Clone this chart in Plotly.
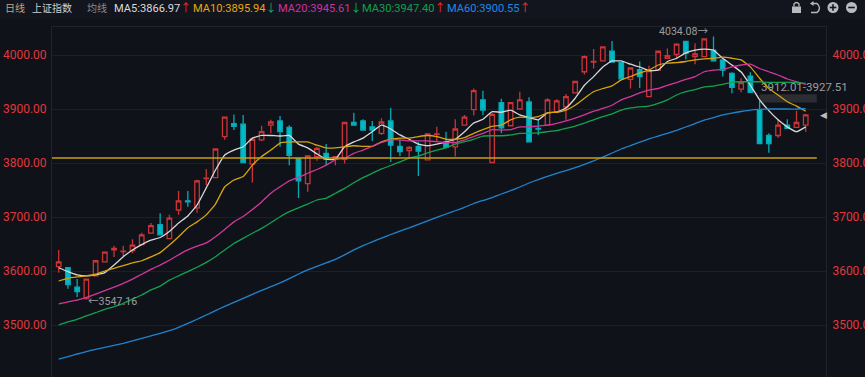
import plotly.graph_objects as go

opens = [3608,3606,3570,3549,3591,3617,3639,3636,3638,3649,3670,3686,3660,3713,3730,3717,3771,3773,3849,3873,
         3872,3798,3843,3870,3878,3866,3808,3762,3812,3818,3807,3807,3875,3878,3867,3855,3878,3831,3823,3831,
         3806,3853,3839,3830,3870,3899,3917,3801,3912,3869,3900,3913,3864,3870,3895,3904,3930,3969,3987,3989,
         4007,3986,3955,3973,3923,3972,3994,4001,4025,3997,3997,4009,3991,3966,3937,3961,3899,3851,3851,3870,
         3866,3870]
highs = [3639,3607,3585,3586,3620,3636,3647,3647,3659,3671,3689,3707,3704,3748,3748,3769,3789,3827,3886,3890,
         3889,3847,3869,3880,3887,3870,3809,3815,3830,3835,3813,3876,3893,3881,3878,3883,3902,3843,3831,3839,
         3855,3867,3858,3881,3889,3938,3934,3893,3919,3913,3932,3922,3880,3920,3918,3928,3952,3999,4011,4016,
         4026,3987,3977,3988,3980,4008,4012,4022,4026,4022,4031,4034.08,3992,3968,3957,3968,3915,3855,3880,3881,
         3897,3891]
lows = [3597,3567,3552,3547.16,3590,3616,3626,3628,3633,3648,3669,3666,3659,3704,3719,3708,3759,3772,3843,3861,
        3800,3764,3841,3855,3830,3796,3735,3747,3804,3796,3796,3799,3869,3860,3841,3852,3802,3813,3809,3776,
        3805,3839,3828,3812,3869,3888,3889,3800,3855,3868,3899,3838,3852,3869,3893,3880,3929,3964,3975,3988,
        3986,3955,3938,3939,3922,3971,3993,3992,3992,3983,3996,3988,3960,3929,3931,3930,3835,3819,3847,3863,
        3865,3858]
closes = [3617,3575,3562,3585,3619,3635,3642,3637,3648,3667,3684,3667,3698,3730,3728,3767,3772,3826,3885,3868,
          3801,3844,3858,3876,3858,3814,3767,3813,3827,3807,3812,3875,3870,3861,3861,3876,3833,3821,3829,3822,
          3854,3854,3829,3863,3885,3934,3898,3890,3865,3912,3917,3839,3863,3917,3915,3923,3951,3997,3988,4015,
          3987,3956,3976,3960,3971,4007,3999,4020,4003,4002,4030,3989,3972,3940,3949,3931,3836,3836,3870,3864,
          3875,3889]

ma5 = [3606,3599,3593,3591,3593,3597,3611,3626.5,3639,3649,3657,3662,3673,3689,3702,3722,3754,3787,3815,3824,
       3830,3846,3851,3851,3850,3851,3835,3828,3817,3807,3807,3830,3839,3846,3858,3870,3863,3852,3844,3835,
       3832,3835,3839,3844,3858,3874,3881,3895,3894,3898,3889,3884,3880,3893,3894,3902,3920,3944,3960,3978,
       3989,3989,3983,3978,3971,3972,3988,3994,4004,4009,4011,4009,3994,3981.5,3968.5,3944,3917,3897,3880,3867,
       3858,3866.97]
ma10 = [3581.5,3586.5,3589,3591,3594,3600,3605,3610,3615,3619,3626,3634,3648,3663.5,3680,3691,3704,3724,3756,3768.5,
        3775,3796,3812,3824,3837,3839,3839,3839,3833,3828,3828,3830,3832,3831,3831,3839,3844,3846,3846,3849,
        3851,3849,3844,3844,3847,3855,3862,3868,3870,3880,3885,3884,3886,3893,3894,3898,3907,3920,3932,3938,
        3943,3954,3960,3967,3972,3981.5,3985,3986,3988,3991,3993,3994,3996,3994,3991,3978,3957,3938,3926,3913.5,
        3905.5,3895.94]
ma20 = [3539,3543,3546,3551,3557,3563.5,3570,3577,3585,3594,3603,3611,3620,3630,3639,3646,3652,3663.5,3677,3691,
        3701,3714,3728,3744,3756,3767,3773.5,3781,3788,3796,3806,3809,3818,3824,3831,3838,3843,3843,3841,3841,
        3841,3839.5,3838,3838,3843,3849,3855,3862,3861,3862,3867,3867,3868.5,3870,3873.5,3878,3883,3889,3896,3901,
        3907,3917,3923,3930,3935,3938,3944,3949,3955,3960,3969,3972,3973.5,3978,3981.5,3983,3975,3969,3963,3955.6,
        3950.6,3945.61]
ma30 = [3500,3505.6,3510.6,3516.7,3522.8,3529,3534,3540,3548,3555.6,3565,3572,3583,3591,3599,3607,3616,3626.5,3639,3651,
        3660.5,3670,3679,3689.4,3700.6,3710,3717,3724,3731.5,3735,3744,3753,3763.5,3773,3781,3789,3795.4,3802,3809,3813,
        3819,3824,3828,3835,3839.4,3844,3850,3850.5,3850.5,3852,3855,3855,3856,3858,3860,3864,3868.5,3874,3880,3886,
        3891,3898,3902,3904,3905.5,3910.5,3917,3926,3932,3936,3941,3942.6,3945.7,3949.4,3950.5,3950.5,3950.5,3949.4,3949.4,3949.4,
        3948.7,3947.40]
ma60 = [3437,3441.3,3446.3,3450.6,3455,3458.7,3462.4,3466,3470.4,3475.4,3480,3484.6,3489.4,3495.7,3503,3510.6,3518.5,3526.5,3534.5,3542,
        3549.4,3556.9,3564,3571,3578,3586,3594.4,3602,3608.6,3615,3621.7,3630,3639,3647,3654,3661,3667.6,3674,3680,3686.5,
        3693,3699.4,3705.6,3711.6,3718,3725,3730.6,3736,3742.6,3748.7,3755.6,3763,3769.4,3775.4,3781,3786,3791.3,3797.6,3804,3811,
        3818.5,3826,3832.4,3838.5,3844.5,3850,3855,3860.5,3866.7,3873,3879.6,3884,3889,3892.6,3895.4,3898,3899.4,3900,3900,3900,
        3900,3900.55]

ma_names = ["MA5", "MA10", "MA20", "MA30", "MA60"]
ma_series = [ma5, ma10, ma20, ma30, ma60]
ma_colors = ["#d8d8d8", "#d6a40c", "#d2379c", "#12a24e", "#1f84cf"]
ma_labels = ["MA5:3866.97", "MA10:3895.94", "MA20:3945.61", "MA30:3947.40", "MA60:3900.55"]
ma_arrows = ["↑", "↓", "↓", "↑", "↑"]
ma_label_colors = ["#d9d9d9", "#e6a808", "#d0309c", "#0aa24a", "#1a8be6"]
ma_label_px = [114, 193, 278, 362, 447]

y_ticks = [3500, 3600, 3700, 3800, 3900, 4000]
support_level = 3809.3
gap_low, gap_high = 3912.01, 3927.51

W, H = 865, 377
ML, MR, MT, MB = 52, 39, 27, 0
BG = "#10121a"
HEAD = "#13151e"
GRID = "#1c1e29"
RED_T = "#e0383a"

x = list(range(len(opens)))

def px(v):
    return (v - ML) / (W - ML - MR)

def py(v):
    return (H - MB - v) / (H - MT - MB)

fig = go.Figure()
fig.add_trace(go.Candlestick(
    x=x, open=opens, high=highs, low=lows, close=closes, whiskerwidth=0,
    increasing=dict(line=dict(color="#c93437", width=1.3), fillcolor=BG),
    decreasing=dict(line=dict(color="#06aab6", width=1.3), fillcolor="#02bac6"),
    showlegend=False, hoverinfo="skip",
))
for name, vals, col in zip(ma_names, ma_series, ma_colors):
    fig.add_trace(go.Scatter(x=x, y=vals, mode="lines", name=name, showlegend=False, hoverinfo="skip",
                             line=dict(color=col, width=1.3, shape="spline", smoothing=0.35, simplify=False)))
fig.add_trace(go.Scatter(x=x[:1], y=y_ticks[:1], yaxis="y2", mode="markers", marker=dict(opacity=0),
                         showlegend=False, hoverinfo="skip"))

yrange = [3403.7, 4051.9]
xrange_ = [-0.727, 83.2]
tickfont = dict(family="Roboto, Liberation Sans, sans-serif", size=12, color=RED_T)
fig.update_layout(
    width=W, height=H, margin=dict(l=ML, r=MR, t=MT, b=MB, pad=0, autoexpand=False),
    paper_bgcolor=BG, plot_bgcolor=BG, showlegend=False,
    xaxis=dict(range=xrange_, side="top", showgrid=False, zeroline=False, showticklabels=False, ticks="",
               rangeslider=dict(visible=False), showline=True, linecolor="#20222c", linewidth=1, automargin=False),
    yaxis=dict(range=yrange, tickvals=y_ticks, tickformat=".2f", gridcolor=GRID, gridwidth=1, zeroline=False,
               tickfont=tickfont, showline=True, linecolor="#20222c", linewidth=1, ticks="outside",
               ticklen=2, tickcolor=BG, automargin=False),
    yaxis2=dict(range=yrange, overlaying="y", side="right", tickvals=y_ticks, tickformat=".2f", showgrid=False,
                zeroline=False, tickfont=tickfont, showline=True, linecolor="#20222c", linewidth=1,
                ticks="outside", ticklen=3, tickcolor=BG, automargin=False),
)

shapes = [
    dict(type="rect", xref="paper", yref="paper", x0=px(0), x1=px(W), y0=py(19), y1=py(0), fillcolor=HEAD,
         line_width=0, layer="below"),
    dict(type="rect", xref="x", yref="y", x0=76, x1=82.2, y0=gap_low, y1=gap_high, fillcolor="#2b2d32",
         line_width=0, layer="below"),
    dict(type="line", xref="x", yref="y", x0=-0.8, x1=82.2, y0=support_level, y1=support_level,
         line=dict(color="#c9a00f", width=1.5), layer="above"),
]
ICON = "#b9bbc0"
# lock
shapes.append(dict(type="rect", xref="paper", yref="paper", x0=px(792), x1=px(801), y0=py(13), y1=py(6.5),
                   fillcolor=ICON, line_width=0))
shapes.append(dict(type="path", xref="paper", yref="paper",
                   path=f"M {px(794)} {py(6.5)} L {px(794)} {py(4)} Q {px(796.5)} {py(1)} {px(799)} {py(4)} L {px(799)} {py(6.5)}",
                   line=dict(color=ICON, width=1.3)))
# undo
shapes.append(dict(type="path", xref="paper", yref="paper",
                   path=f"M {px(812)} {py(3.5)} L {px(817)} {py(3.5)} Q {px(822)} {py(8)} {px(817)} {py(12.5)} L {px(811)} {py(12.5)}",
                   line=dict(color=ICON, width=1.4)))
shapes.append(dict(type="path", xref="paper", yref="paper",
                   path=f"M {px(810)} {py(3.5)} L {px(813.5)} {py(1)} L {px(813.5)} {py(6)} Z",
                   fillcolor=ICON, line_width=0))
# plus / minus
for cx in (833, 851.5):
    shapes.append(dict(type="circle", xref="paper", yref="paper", x0=px(cx - 5.5), x1=px(cx + 5.5),
                       y0=py(13), y1=py(2), fillcolor=ICON, line_width=0))
    shapes.append(dict(type="line", xref="paper", yref="paper", x0=px(cx - 3.3), x1=px(cx + 3.3),
                       y0=py(7.5), y1=py(7.5), line=dict(color=HEAD, width=1.6)))
shapes.append(dict(type="line", xref="paper", yref="paper", x0=px(833), x1=px(833),
                   y0=py(4.2), y1=py(10.8), line=dict(color=HEAD, width=1.6)))
fig.update_layout(shapes=shapes)

FONT = "Roboto, Noto Sans CJK SC, sans-serif"
def head(text, left, color, size=11.1):
    fig.add_annotation(xref="paper", yref="paper", x=px(left), y=py(8), text=text, showarrow=False,
                       xanchor="left", yanchor="middle", font=dict(family=FONT, size=size, color=color),
                       borderpad=0, borderwidth=0)

head("日线", 5, "#c6a67a", 10)
head("上证指数", 32, "#d0d0d0", 10)
head("均线", 87, "#8c8c8c", 10)
for lab, arrow, col, left in zip(ma_labels, ma_arrows, ma_label_colors, ma_label_px):
    acol = "#ee2b2b" if arrow == "↑" else "#12b84f"
    head(f"{lab}<span style='color:{acol}'>{arrow}</span>", left, col)

LABEL = dict(family=FONT, size=10.6, color="#9b9da0")
fig.add_annotation(x=71, y=highs[71], xref="x", yref="y", text=f"{highs[71]:.2f}→", showarrow=False,
                   xanchor="right", yanchor="middle", xshift=-2, yshift=5, font=LABEL)
fig.add_annotation(x=3, y=lows[3], xref="x", yref="y", text=f"←{lows[3]:.2f}", showarrow=False,
                   xanchor="left", yanchor="middle", xshift=0, yshift=-2, font=LABEL)
fig.add_annotation(x=76, y=gap_high, xref="x", yref="y", text=f"{gap_low:.2f}-{gap_high:.2f}", showarrow=False,
                   xanchor="left", yanchor="middle", xshift=-1, yshift=7,
                   font=dict(family=FONT, size=11.5, color="#9b9da0"))
fig.add_annotation(x=83, y=closes[-1], xref="x", yref="y", text="◀", showarrow=False, xanchor="center",
                   yanchor="middle", xshift=-1, font=dict(family="DejaVu Sans", size=9, color="#b9bbc0"))

fig.write_html("out.html", config=dict(displayModeBar=False),
               post_script="document.body.style.margin='0';document.body.style.background='#10121a';")
